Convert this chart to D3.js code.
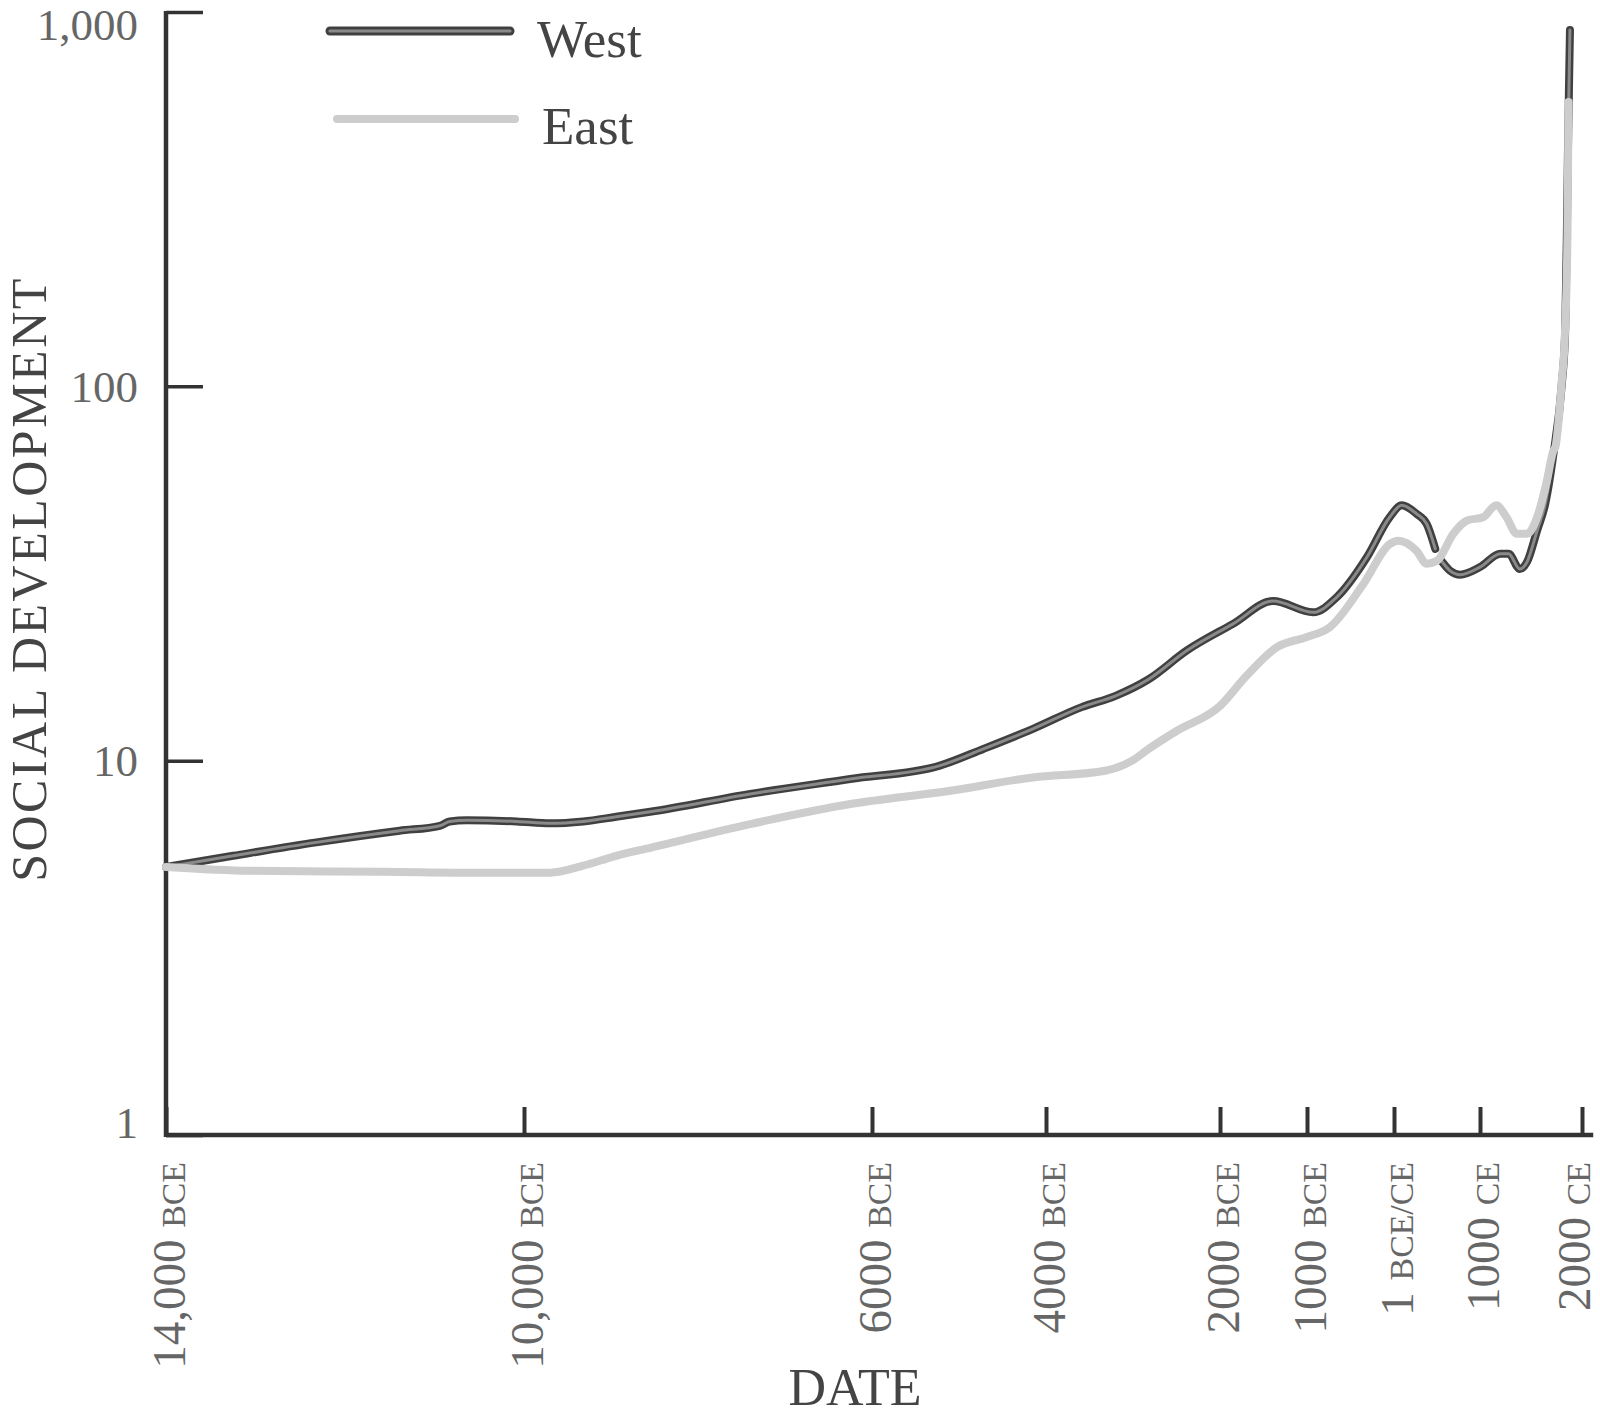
<!DOCTYPE html>
<html>
<head>
<meta charset="utf-8">
<script src="https://cdn.jsdelivr.net/npm/d3@7"></script>
<style>
  body { margin: 0; background: #fff; }
  #chart text { font-family: "Liberation Serif", "DejaVu Serif", serif; }
</style>
</head>
<body>
<div id="chart"></div>
<script>
// values (year, index); null = break in the West line
const westYears = [-14000, -13250, -12320, -11390, -10940, -10830, -10640, -10080, -9700, -9320,
  -8940, -8550, -7400, -6250, -5220, -4720, -4150, -3590, -3200, -2820,
  -2380, -1850, -1390, -930, -660, -310, -50, 90, 260, 380,
  480, 515, 550, 650, 770, 1000, 1200, 1280, 1390, 1460,
  1560, 1640, 1720, 1800, 1835, 1852, 1862, 1872, 1882];
const westValues = [5.2, 5.57, 6.05, 6.5, 6.7, 6.88, 6.93, 6.88, 6.8, 6.88,
  7.08, 7.3, 8.15, 8.93, 9.7, 10.75, 12.16, 13.9, 14.9, 16.5,
  19.7, 23.2, 26.7, 24.9, 27.3, 35.0, 44.7, 48.1, 45.7, 42.9,
  36.8, null, 34.2, 32.2, 31.4, 32.9, 35.7, 35.7, 32.5, 33.9,
  41.2, 48.6, 66, 100, 140, 260, 420, 620, 895];

const eastYears = [-14000, -13060, -11570, -10450, -9700, -9320, -8940, -8550, -7400, -6250,
  -5100, -4150, -3320, -3010, -2820, -2500, -2000, -1700, -1345, -1000,
  -740, -350, -50, 50, 260, 380, 500, 690, 850, 1030,
  1160, 1260, 1360, 1460, 1560, 1650, 1720, 1740, 1800, 1833,
  1858, 1868];
const eastValues = [5.2, 5.08, 5.05, 5.02, 5.02, 5.24, 5.57, 5.85, 6.77, 7.66,
  8.31, 9.02, 9.4, 10.0, 10.75, 12.0, 14.0, 16.8, 20.1, 21.4,
  22.7, 29.7, 37.9, 38.7, 36.4, 33.6, 34.2, 40.4, 43.8, 44.7,
  48.1, 44.7, 40.4, 40.4, 44.7, 55.0, 67.4, 69, 102, 139,
  257, 575];

const seriesNames = ["West", "East"];
const xTickYears = [-14000, -10000, -6000, -4000, -2000, -1000, 0, 1000, 2000];
const xTickNumbers = ["14,000", "10,000", "6000", "4000", "2000", "1000", "1", "1000", "2000"];
const xTickEras = ["BCE", "BCE", "BCE", "BCE", "BCE", "BCE", "BCE/CE", "CE", "CE"];
const yTickValues = [1, 10, 100, 1000];

const width = 1600;
const height = 1417;
const plotLeft = 166;
const plotBottom = 1135;
const plotTop = 12;

const svg = d3.select("#chart")
  .append("svg")
  .attr("width", width)
  .attr("height", height);

// the date axis is drawn piecewise, as in the original
const x = d3.scaleLinear()
  .domain(xTickYears)
  .range([plotLeft, 524, 872, 1046, 1220, 1307, 1394, 1480, 1582]);

const y = d3.scaleLog()
  .domain([1, 1000])
  .range([plotBottom, plotTop]);

const west = westYears.map((yr, i) => ({ year: yr, v: westValues[i] }));
const east = eastYears.map((yr, i) => ({ year: yr, v: eastValues[i] }));

const line = d3.line()
  .defined((d) => d.v != null)
  .x((d) => x(d.year))
  .y((d) => y(d.v))
  .curve(d3.curveMonotoneX);

// axes
const yAxis = svg.append("g")
  .attr("transform", `translate(${plotLeft},0)`)
  .call(d3.axisLeft(y)
    .tickValues(yTickValues)
    .tickFormat(d3.format(","))
    .tickSize(-37)
    .tickSizeOuter(0)
    .tickPadding(28));
yAxis.select(".domain").remove();
yAxis.selectAll(".tick line").attr("stroke", "#333").attr("stroke-width", 3.5);
yAxis.selectAll(".tick text")
  .attr("fill", "#666")
  .attr("font-size", 45)
  .attr("dy", (d) => (d === 1 ? "0.05em" : d === 1000 ? "0.6em" : "0.33em"));

const xAxis = svg.append("g")
  .attr("transform", `translate(0,${plotBottom})`)
  .call(d3.axisBottom(x)
    .tickValues(xTickYears)
    .tickSize(-28)
    .tickSizeOuter(0));
xAxis.select(".domain").remove();
xAxis.selectAll(".tick line").attr("stroke", "#333").attr("stroke-width", 4);
xAxis.selectAll(".tick text")
  .text(null)
  .attr("fill", "#666")
  .attr("font-size", 47)
  .attr("transform", "rotate(-90)")
  .attr("text-anchor", "end")
  .attr("x", -27)
  .attr("y", 0)
  .attr("dy", (d, i) => (i === xTickYears.length - 1 ? "0.15em" : "0.4em"))
  .each(function (d, i) {
    const t = d3.select(this);
    t.append("tspan").text(xTickNumbers[i] + " ");
    t.append("tspan").attr("font-size", "0.72em").text(xTickEras[i]);
  });

svg.append("line")
  .attr("x1", plotLeft).attr("x2", x(2110))
  .attr("y1", plotBottom).attr("y2", plotBottom)
  .attr("stroke", "#333").attr("stroke-width", 4.5);

svg.append("line")
  .attr("x1", plotLeft).attr("x2", plotLeft)
  .attr("y1", plotTop - 1).attr("y2", plotBottom + 2)
  .attr("stroke", "#333").attr("stroke-width", 4.5);

// lines: West (dark, hollow look), East on top (light)
svg.append("path")
  .datum(west)
  .attr("d", line)
  .attr("fill", "none")
  .attr("stroke", "#404040")
  .attr("stroke-width", 8)
  .attr("stroke-linecap", "round")
  .attr("stroke-linejoin", "round");

svg.append("path")
  .datum(west)
  .attr("d", line)
  .attr("fill", "none")
  .attr("stroke", "#8a8a8a")
  .attr("stroke-width", 3)
  .attr("stroke-linecap", "round")
  .attr("stroke-linejoin", "round");

svg.append("path")
  .datum(east)
  .attr("d", line)
  .attr("fill", "none")
  .attr("stroke", "#cdcdcd")
  .attr("stroke-width", 8)
  .attr("stroke-linecap", "round")
  .attr("stroke-linejoin", "round");

// legend
const legend = svg.append("g");
const legendRows = [
  { name: seriesNames[0], x1: 330, x2: 510, y: 31, ty: 57 },
  { name: seriesNames[1], x1: 337, x2: 515, y: 119, ty: 144 },
];
legendRows.forEach((r, i) => {
  if (i === 0) {
    legend.append("line")
      .attr("x1", r.x1).attr("x2", r.x2).attr("y1", r.y).attr("y2", r.y)
      .attr("stroke", "#404040").attr("stroke-width", 9).attr("stroke-linecap", "round");
    legend.append("line")
      .attr("x1", r.x1).attr("x2", r.x2).attr("y1", r.y).attr("y2", r.y)
      .attr("stroke", "#8a8a8a").attr("stroke-width", 3).attr("stroke-linecap", "round");
  } else {
    legend.append("line")
      .attr("x1", r.x1).attr("x2", r.x2).attr("y1", r.y).attr("y2", r.y)
      .attr("stroke", "#cdcdcd").attr("stroke-width", 8).attr("stroke-linecap", "round");
  }
  legend.append("text")
    .attr("x", r.x2 + 27)
    .attr("y", r.ty)
    .attr("font-size", 53)
    .attr("fill", "#444")
    .text(r.name);
});

// axis titles
svg.append("text")
  .attr("transform", "translate(46,579) rotate(-90)")
  .attr("text-anchor", "middle")
  .attr("font-size", 50)
  .attr("letter-spacing", 2.5)
  .attr("fill", "#444")
  .text("SOCIAL DEVELOPMENT");

svg.append("text")
  .attr("x", 855)
  .attr("y", 1405)
  .attr("text-anchor", "middle")
  .attr("font-size", 52)
  .attr("fill", "#444")
  .text("DATE");
</script>
</body>
</html>
